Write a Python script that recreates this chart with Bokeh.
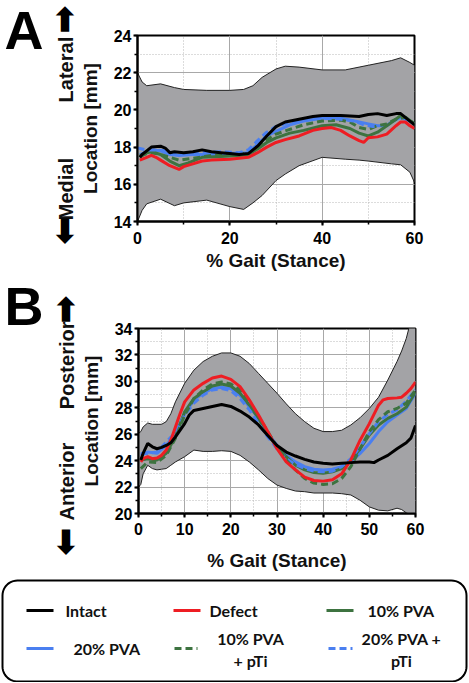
import numpy as np
from bokeh.plotting import figure
from bokeh.models import Range1d, SingleIntervalTicker, FixedTicker, LinearAxis, Title
from bokeh.embed import file_html
from bokeh.resources import INLINE
from bokeh.core.properties import value

# ---------------- data ----------------
# Panel A : medial-lateral location
A_band_x = [0, 1, 2, 5, 8, 10, 15, 20, 23, 25, 27, 30, 32, 35, 40, 45, 48, 50, 55, 57, 59, 60]
A_band_hi = [22.0, 21.5, 21.3, 21.4, 21.2, 21.1, 21.05, 21.05, 21.1, 21.3, 21.75, 22.2, 22.35, 22.3,
             22.15, 22.15, 22.3, 22.4, 22.65, 22.8, 22.55, 22.4]
A_band_lo = [14.0, 14.6, 14.95, 15.2, 14.85, 15.0, 15.15, 14.8, 14.65, 15.0, 15.4, 16.2, 16.55, 17.0,
             17.45, 17.35, 17.3, 17.25, 17.1, 17.05, 16.65, 16.1]

A_intact_x = [0.5, 1, 2, 3, 5, 6, 7, 8, 10, 12, 14, 16, 18, 20, 22, 24, 26, 28, 30, 32, 35, 38, 40, 44,
              48, 50, 52, 54, 56, 57, 58, 59, 60]
A_intact_y = [17.45, 17.6, 17.8, 18.0, 18.05, 17.95, 17.7, 17.75, 17.7, 17.75, 17.85, 17.75, 17.7, 17.65,
              17.6, 17.65, 18.05, 18.6, 19.1, 19.35, 19.5, 19.65, 19.7, 19.7, 19.65, 19.75, 19.8, 19.7,
              19.8, 19.8, 19.6, 19.4, 19.2]
A_defect_x = [0.5, 2, 3, 4, 5, 7, 9, 10, 12, 14, 16, 20, 24, 26, 28, 30, 32, 35, 38, 40, 42, 44, 46, 48,
              49, 50, 52, 54, 56, 57, 58, 59, 60]
A_defect_y = [17.3, 17.45, 17.55, 17.45, 17.3, 17.0, 16.8, 16.95, 17.1, 17.25, 17.3, 17.35, 17.45, 17.7,
              18.0, 18.25, 18.4, 18.6, 18.9, 19.0, 19.05, 18.9, 18.6, 18.35, 18.25, 18.5, 18.55, 18.7,
              19.15, 19.35, 19.35, 19.15, 19.0]
A_pva10_x = [0.5, 2, 3, 5, 7, 9, 11, 14, 18, 22, 24, 26, 28, 30, 33, 36, 40, 43, 46, 48, 50, 52, 54, 56,
             57, 58, 60]
A_pva10_y = [17.45, 17.7, 17.75, 17.6, 17.25, 17.0, 17.15, 17.45, 17.5, 17.55, 17.6, 17.9, 18.25, 18.5,
             18.75, 18.9, 19.15, 19.2, 19.0, 18.75, 18.6, 18.8, 19.15, 19.5, 19.7, 19.6, 19.25]
A_pva20_x = [0.5, 3, 5, 7, 9, 12, 16, 20, 24, 26, 28, 30, 33, 36, 40, 44, 47, 50, 52, 54, 55, 57, 59, 60]
A_pva20_y = [17.6, 17.85, 17.8, 17.6, 17.55, 17.6, 17.6, 17.65, 17.7, 18.15, 18.6, 18.85, 19.2, 19.4,
             19.55, 19.55, 19.4, 19.25, 19.15, 19.15, 19.35, 19.6, 19.4, 19.25]
A_pva10ti_x = [0.5, 3, 5, 7, 9, 12, 16, 20, 24, 26, 28, 30, 33, 36, 40, 44, 46, 48, 50, 52, 54, 56, 58, 60]
A_pva10ti_y = [17.55, 17.7, 17.6, 17.45, 17.3, 17.4, 17.55, 17.6, 17.65, 18.0, 18.4, 18.7, 18.95, 19.2,
               19.4, 19.45, 19.35, 19.05, 18.95, 19.15, 19.25, 19.5, 19.6, 19.25]
A_pva20ti_x = [0, 2, 4, 6, 8, 10, 14, 18, 22, 24, 26, 28, 30, 33, 36, 40, 44, 47, 49, 51, 52]
A_pva20ti_y = [17.95, 17.85, 17.85, 17.8, 17.65, 17.65, 17.7, 17.75, 17.7, 17.85, 18.35, 18.8, 19.1,
               19.35, 19.5, 19.55, 19.5, 19.4, 19.2, 19.1, 19.15]

# Panel B : anterior-posterior location
B_band_x = [0, 0.5, 1, 2, 3, 4, 5, 6, 7, 8, 10, 12, 14, 16, 18, 20, 22, 24, 26, 28, 30, 32, 34, 36, 38,
            40, 42, 44, 46, 48, 50, 52, 54, 56, 57, 58, 59, 60]
B_band_hi = [26.05, 26.2, 26.55, 26.85, 26.75, 26.75, 26.75, 26.95, 27.55, 28.45, 29.85, 30.85, 31.5,
             31.9, 32.15, 32.15, 31.9, 31.35, 30.6, 29.85, 29.1, 28.3, 27.55, 26.95, 26.45, 26.2, 26.2,
             26.3, 26.7, 27.25, 27.95, 28.8, 30.1, 31.5, 32.3, 33.25, 34.6, 36.0]
B_band_lo = [22.0, 22.2, 23.0, 23.65, 23.4, 23.3, 23.35, 23.4, 23.65, 23.9, 24.3, 24.8, 24.7, 24.7, 24.75,
             24.7, 24.4, 23.9, 23.3, 22.65, 22.15, 21.9, 21.7, 21.65, 21.55, 21.55, 21.55, 21.5, 21.4,
             21.0, 20.5, 20.25, 20.2, 20.4, 20.3, 20.05, 19.9, 19.75]

B_intact_x = [0.5, 1, 2, 3, 4, 5, 6, 7, 8, 10, 11, 12, 14, 16, 18, 20, 22, 24, 26, 28, 30, 32, 34, 36,
              38, 40, 42, 44, 46, 48, 50, 51, 52, 54, 56, 58, 59, 60]
B_intact_y = [24.05, 24.55, 25.3, 25.05, 24.9, 25.0, 25.15, 25.35, 25.8, 26.8, 27.45, 27.8, 27.95, 28.1,
              28.25, 28.1, 27.75, 27.3, 26.7, 25.9, 25.15, 24.65, 24.35, 24.1, 23.9, 23.8, 23.75, 23.8,
              23.85, 23.9, 23.9, 23.85, 24.05, 24.4, 24.9, 25.35, 25.7, 26.65]
B_defect_x = [0.5, 1, 2, 3, 4, 5, 6, 7, 8, 9, 10, 12, 14, 16, 18, 20, 22, 24, 26, 28, 30, 32, 34, 36, 38,
              40, 42, 44, 46, 48, 50, 52, 53, 54, 56, 57, 58, 59, 60]
B_defect_y = [23.9, 24.15, 24.3, 24.15, 24.2, 24.4, 24.8, 25.55, 26.55, 27.55, 28.45, 29.35, 29.85, 30.25,
              30.4, 30.15, 29.6, 28.6, 27.45, 26.2, 24.9, 23.9, 23.3, 22.75, 22.5, 22.45, 22.55, 23.0,
              24.05, 25.55, 26.8, 28.2, 28.6, 28.7, 28.75, 28.8, 29.1, 29.45, 29.95]
B_grp_x = [0.5, 2, 4, 6, 8, 10, 12, 14, 16, 18, 20, 22, 24, 26, 28, 30, 32, 34, 36, 38, 40, 42, 44, 46,
           48, 50, 52, 54, 56, 58, 60]
B_pva10_y = [24.05, 24.15, 24.05, 24.55, 25.8, 27.7, 28.7, 29.2, 29.65, 29.8, 29.65, 29.1, 28.2, 27.2,
             26.05, 25.05, 24.3, 23.65, 23.3, 23.1, 23.05, 23.15, 23.4, 24.05, 24.9, 25.95, 26.7, 27.2,
             27.55, 28.05, 29.2]
B_pva20_y = [24.4, 24.65, 24.55, 25.15, 26.05, 27.55, 28.6, 29.1, 29.45, 29.55, 29.45, 28.95, 28.1, 27.2,
             26.1, 25.15, 24.4, 23.9, 23.55, 23.35, 23.3, 23.35, 23.55, 23.9, 24.55, 25.3, 26.2, 26.95,
             27.45, 27.95, 29.1]
B_pva10ti_y = [23.4, 23.9, 23.85, 24.4, 25.7, 27.45, 28.7, 29.35, 29.8, 29.95, 29.8, 29.35, 28.45, 27.35,
               26.2, 25.05, 24.05, 23.3, 22.65, 22.3, 22.2, 22.25, 22.65, 23.55, 24.9, 26.2, 27.1, 27.7,
               27.95, 28.35, 29.35]
B_pva20ti_y = [24.55, 24.55, 24.65, 25.4, 26.15, 27.45, 28.35, 28.95, 29.35, 29.45, 29.3, 28.7, 27.85,
               26.8, 25.8, 24.9, 24.15, 23.7, 23.4, 23.2, 23.15, 23.2, 23.55, 24.15, 25.05, 26.05, 26.95,
               27.5, 27.85, 28.5, 29.35]

legend_names = ["Intact", "Defect", "10% PVA", "20% PVA", "10% PVA\n+ pTi", "20% PVA +\npTi"]

# ---------------- styles ----------------
FONT = "Liberation Sans"
C_BLACK = "#000000"
C_RED = "#ee1d23"
C_GREEN = "#3d7340"
C_BLUE = "#4a7ff0"
C_BAND = "#a3a3a6"
series_colors = [C_BLACK, C_RED, C_GREEN, C_BLUE, C_GREEN, C_BLUE]
series_dash = ["solid", "solid", "solid", "solid", "7 4", "7 4"]
W = 469
UP = "\u27a1\ufe0e"
DOWN = "\u2b05\ufe0e"
NB = "\u00a0"
THIN = "\u2009"


def make_panel(height, frame_left, frame_top, frame_w, frame_h, page_top, yr, x_int, y_int,
               tick_standoff, label_standoff):
    p = figure(width=W, height=height, x_range=Range1d(0, 60), y_range=Range1d(*yr),
               output_backend="svg", toolbar_location=None,
               min_border_left=frame_left, min_border_top=frame_top - page_top,
               min_border_right=W - (frame_left + frame_w),
               min_border_bottom=height - (frame_top - page_top) - frame_h)
    p.background_fill_color = "white"
    p.border_fill_color = "white"
    p.outline_line_color = "black"
    p.outline_line_width = 2
    p.xaxis.ticker = SingleIntervalTicker(interval=x_int, num_minor_ticks=2)
    p.yaxis.ticker = SingleIntervalTicker(interval=y_int, num_minor_ticks=2)
    for ax in (p.xaxis[0], p.yaxis[0]):
        ax.axis_line_color = "black"
        ax.axis_line_width = 2
        ax.major_tick_line_color = "black"
        ax.major_tick_line_width = 2
        ax.major_tick_out = 4
        ax.major_tick_in = 0
        ax.minor_tick_line_color = "black"
        ax.minor_tick_line_width = 1.5
        ax.minor_tick_out = 3
        ax.minor_tick_in = 0
        ax.major_label_text_font = FONT
        ax.major_label_text_font_style = "bold"
        ax.major_label_text_font_size = "16px"
        ax.major_label_text_color = "black"
        ax.axis_label_text_font = FONT
        ax.axis_label_text_font_style = "bold"
        ax.axis_label_text_font_size = "19px"
        ax.axis_label_text_color = "#111111"
    p.xaxis.axis_label = "% Gait (Stance)"
    p.yaxis.axis_label = "Location [mm]"
    p.xaxis.major_label_standoff = tick_standoff
    p.xaxis.axis_label_standoff = label_standoff
    p.yaxis.major_label_standoff = 2
    p.yaxis.axis_label_standoff = 10
    for g in (p.xgrid[0], p.ygrid[0]):
        g.grid_line_color = "#a8a8a8"
        g.grid_line_width = 1
        g.minor_grid_line_color = "#b8b8b8"
        g.minor_grid_line_dash = "1 2"
        g.minor_grid_line_width = 1
    return p


def bare_axis(**kw):
    return LinearAxis(axis_line_color=None, major_tick_line_color=None, minor_tick_line_color=None,
                      major_tick_out=0, minor_tick_out=0, **kw)


def add_left_decor(p, words, arrows, letter, frame_left, letter_standoff):
    # direction words, as the label of an extra (tick-less) left axis
    p.add_layout(bare_axis(ticker=FixedTicker(ticks=[]), axis_label=words, major_label_standoff=0,
                           axis_label_standoff=0, axis_label_text_font=FONT,
                           axis_label_text_font_style="bold", axis_label_text_font_size="20px",
                           axis_label_text_color="#111111"), "left")
    # block arrows, overlaid on the same column (negative standoff)
    p.add_layout(bare_axis(ticker=FixedTicker(ticks=[]), axis_label=arrows, major_label_standoff=0,
                           axis_label_standoff=-30, axis_label_text_font=FONT,
                           axis_label_text_font_style="bold", axis_label_text_font_size="32px",
                           axis_label_text_color="black"), "left")
    # panel letter, as a left-aligned title pulled over the left border
    p.add_layout(Title(text=letter, align="left", vertical_align="middle", offset=4 - frame_left,
                       standoff=letter_standoff, text_font=FONT, text_font_style="bold",
                       text_font_size="54px", text_color="black"), "above")


def draw_series(p, band_x, lo, hi, series):
    p.varea(x=band_x, y1=lo, y2=hi, fill_color=C_BAND, fill_alpha=1.0)
    p.line(band_x, hi, line_color="#222222", line_width=1)
    p.line(band_x, lo, line_color="#222222", line_width=1)
    for xs, ys, idx in series:
        p.line(xs, ys, line_color=series_colors[idx], line_width=3, line_dash=series_dash[idx])


# Panel A (page y 0-276)
pA = make_panel(276, 137, 35, 277, 186, 0, (14, 24), 20, 2, 6, 3)
draw_series(pA, A_band_x, A_band_lo, A_band_hi, [
    (A_pva20_x, A_pva20_y, 3), (A_pva10_x, A_pva10_y, 2), (A_pva10ti_x, A_pva10ti_y, 4),
    (A_pva20ti_x, A_pva20ti_y, 5), (A_defect_x, A_defect_y, 1), (A_intact_x, A_intact_y, 0)])
add_left_decor(pA, "Medial" + NB * 10 + "Lateral", THIN + DOWN + NB * 20 + THIN + UP, "A", 137, -50)

# Panel B (page y 276-575)
pB = make_panel(299, 138, 328, 277, 185, 276, (20, 34), 10, 2, 5, 12)
draw_series(pB, B_band_x, B_band_lo, B_band_hi, [
    (B_grp_x, B_pva20_y, 3), (B_grp_x, B_pva10_y, 2), (B_grp_x, B_pva20ti_y, 5),
    (B_grp_x, B_pva10ti_y, 4), (B_defect_x, B_defect_y, 1), (B_intact_x, B_intact_y, 0)])
add_left_decor(pB, "Anterior" + NB * 6 + "Posterior", DOWN + NB * 23 + UP + NB, "B", 138, -17)

# Legend panel (page y 575-682)
LH = 107
pL = figure(width=W, height=LH, x_range=Range1d(0, W), y_range=Range1d(LH, 0), min_border=0,
            x_axis_location=None, y_axis_location=None, output_backend="svg", toolbar_location=None)
pL.grid.visible = False
pL.outline_line_color = None
pL.background_fill_color = "white"
pL.border_fill_color = "white"

# rounded box
x0, x1, y0, y1, r = 2, 466, 5, 106, 15
path_x, path_y = [], []
for (cx, cy, a0) in ((x1 - r, y0 + r, -np.pi / 2), (x1 - r, y1 - r, 0), (x0 + r, y1 - r, np.pi / 2),
                     (x0 + r, y0 + r, np.pi)):
    t = np.linspace(a0, a0 + np.pi / 2, 12)
    path_x += list(cx + r * np.cos(t))
    path_y += list(cy + r * np.sin(t))
path_x.append(path_x[0])
path_y.append(path_y[0])
pL.line(path_x, path_y, line_color="black", line_width=2)

seg_x0 = [26, 173, 326, 26, 174, 328]
seg_x1 = [53, 200, 353, 53, 197, 352]
seg_y = [35, 35, 35, 73, 73, 73]
txt_x = [65, 209, 367, 73, 250, 401]
txt_align = ["left", "left", "left", "left", "center", "center"]
for i, name in enumerate(legend_names):
    pL.segment(x0=[seg_x0[i]], y0=[seg_y[i]], x1=[seg_x1[i]], y1=[seg_y[i]],
               line_color=series_colors[i], line_width=3, line_dash=series_dash[i])
    pL.text(x=[txt_x[i]], y=[seg_y[i] + (1 if "\n" in name else 0)], text=[name],
            text_font=value("Lato"), text_font_style="bold", text_font_size="16px",
            text_align=txt_align[i], text_baseline="middle", text_line_height=1.15,
            text_color="#111111")

open("out.html", "w").write(file_html([pA, pB, pL], INLINE))
